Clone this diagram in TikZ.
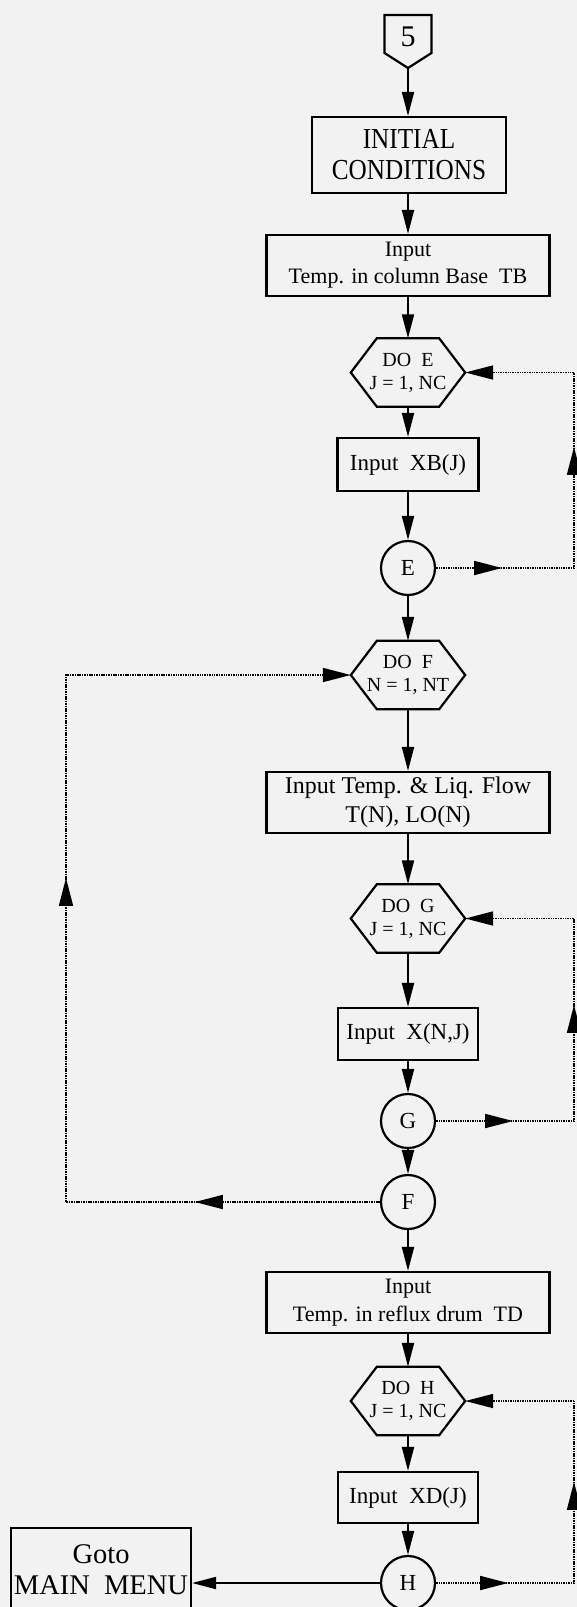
\documentclass[tikz,border=0pt]{standalone}
\usepackage{fontspec}
\setmainfont{Liberation Serif}
\newfontfamily\condfont[FakeStretch=0.87]{Liberation Serif}
\usetikzlibrary{arrows.meta,decorations.markings,calc}
\begin{document}
\begin{tikzpicture}[x=1pt,y=-1pt,
  boxline/.style={line width=2.2pt},
  procbox/.style={draw, boxline, rectangle, inner sep=0pt, align=center},
  conn/.style={draw, circle, boxline, minimum size=54pt, inner sep=0pt, font=\fontsize{23}{24}\selectfont},
  hexnode/.style={minimum width=114pt, minimum height=68pt, inner sep=0pt, align=center, font=\fontsize{20}{23}\selectfont},
  flow/.style={line width=2pt, -{Triangle[length=24pt,width=12pt]}},
  loopline/.style={line width=1.7pt, dash pattern=on 1.5pt off 0.9pt},
  looptip/.style={-{Triangle[length=28pt,width=14pt]}},
  twomarks/.style 2 args={postaction={decorate,decoration={markings,
     mark=at position #1 with {\arrow{Triangle[length=28pt,width=14pt]}},
     mark=at position #2 with {\arrow{Triangle[length=28pt,width=14pt]}}}}}
]
\clip (0,0) rectangle (577,1607);
\fill[black!5] (0,0) rectangle (577,1607);

% entry connector
\coordinate (p5tip) at (408,68);
\node (p5) at (408,37) {\fontsize{30}{30}\selectfont 5};
\draw[boxline, line join=miter] (384.5,15) -- (431.5,15) -- (431.5,53) -- (p5tip) -- (384.5,53) -- cycle;

\node[procbox, minimum width=194pt, minimum height=76pt, font={\condfont\fontsize{29}{31}\selectfont}] (init) at (409,155) {INITIAL\\CONDITIONS};
\node[procbox, minimum width=283pt, minimum height=61pt, font=\fontsize{22}{27}\selectfont] (tb) at (408,265.5) {Input\\Temp. in column Base\ \ TB};
\node[hexnode] (hE) at (408,372.5) {DO\ \ E\\J = 1, NC};
\node[procbox, minimum width=141pt, minimum height=53pt, font=\fontsize{23}{27}\selectfont] (xb) at (408,464.5) {Input\ \ XB(J)};
\node[conn] (cE) at (408,568) {E};
\node[hexnode] (hF) at (408,675) {DO\ \ F\\N = 1, NT};
\node[procbox, minimum width=283pt, minimum height=61pt, font=\fontsize{24}{29}\selectfont] (liq) at (408,802.5) {Input Temp. \& Liq. Flow\\T(N), LO(N)};
\node[hexnode] (hG) at (408,918.5) {DO\ \ G\\J = 1, NC};
\node[procbox, minimum width=140pt, minimum height=52pt, font=\fontsize{23}{27}\selectfont] (xnj) at (408,1034) {Input\ \ X(N,J)};
\node[conn] (cG) at (408,1121) {G};
\node[conn] (cF) at (408,1202) {F};
\node[procbox, minimum width=283pt, minimum height=61pt, font=\fontsize{22}{28}\selectfont] (td) at (408,1302.5) {Input\\Temp. in reflux drum\ \ TD};
\node[hexnode] (hH) at (408,1401) {DO\ \ H\\J = 1, NC};
\node[procbox, minimum width=140pt, minimum height=51pt, font=\fontsize{23}{27}\selectfont] (xd) at (408,1497.5) {Input\ \ XD(J)};
\node[conn] (cH) at (408,1583) {H};
\node[procbox, minimum width=180pt, minimum height=83pt, font=\fontsize{28.5}{31}\selectfont] (goto) at (101,1569.5) {Goto\\MAIN\ \ MENU};

% hexagon outlines
\foreach \n in {hE,hF,hG,hH}
  \draw[boxline, line join=miter] (\n.west) -- ([xshift=26pt]\n.north west) -- ([xshift=-26pt]\n.north east)
     -- (\n.east) -- ([xshift=-26pt]\n.south east) -- ([xshift=26pt]\n.south west) -- cycle;

% main flow
\draw[flow] (p5tip) -- (init.north -| p5tip);
\foreach \a/\b in {init/tb, tb/hE, hE/xb, xb/cE, cE/hF, hF/liq, liq/hG, hG/xnj, xnj/cG, cG/cF, cF/td, td/hH, hH/xd, xd/cH}
  \draw[flow] (\a.south -| cE) -- (\b.north -| cE);
\draw[flow] (cH.west) -- (cH.west -| goto.east);

% loops
\coordinate (rx) at (574,0);
\coordinate (lx) at (66,0);
\draw[loopline, looptip, twomarks={66pt}{259pt}] (cE.east) -- (cE.east -| rx) -- (hE.east -| rx) -- (hE.east);
\draw[loopline, looptip, twomarks={77pt}{254pt}] (cG.east) -- (cG.east -| rx) -- (hG.east -| rx) -- (hG.east);
\draw[loopline, twomarks={72pt}{239pt}] (cH.east) -- (cH.east -| rx) -- (hH.east -| rx);
\draw[loopline, looptip] (hH.east -| rx) -- (hH.east);
\draw[loopline, looptip, twomarks={185pt}{638pt}] (cF.west) -- (cF.west -| lx) -- (hF.west -| lx) -- (hF.west);
\end{tikzpicture}
\end{document}
